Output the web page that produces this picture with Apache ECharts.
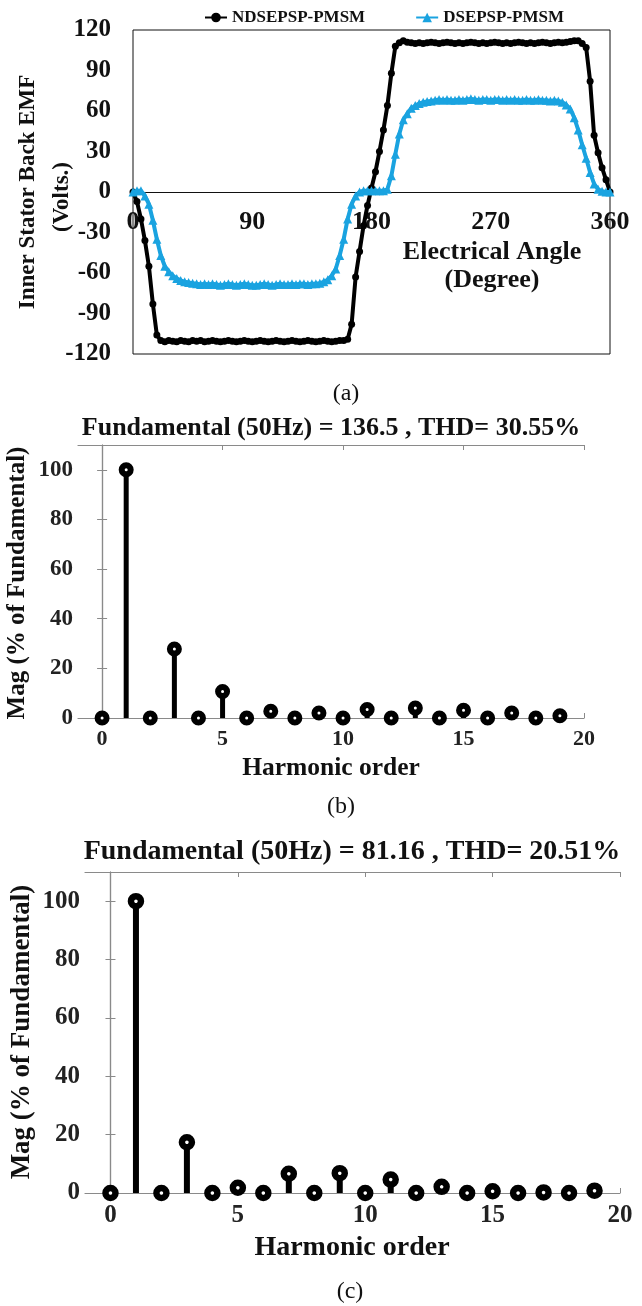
<!DOCTYPE html>
<html>
<head>
<meta charset="utf-8">
<script src="https://cdn.jsdelivr.net/npm/echarts@6/dist/echarts.min.js"></script>
<style>
html,body{margin:0;padding:0;background:#fff;}
#main{width:642px;height:1306px;}
</style>
</head>
<body>
<div id="main"></div>
<script>
// (a) back EMF, read every 3 degrees
var angle = [0,3,6,9,12,15,18,21,24,27,30,33,36,39,42,45,48,51,54,57,60,63,66,69,72,75,78,81,84,87,
    90,93,96,99,102,105,108,111,114,117,120,123,126,129,132,135,138,141,144,147,150,153,156,159,162,165,168,171,174,177,
    180,183,186,189,192,195,198,201,204,207,210,213,216,219,222,225,228,231,234,237,240,243,246,249,252,255,258,261,264,267,
    270,273,276,279,282,285,288,291,294,297,300,303,306,309,312,315,318,321,324,327,330,333,336,339,342,345,348,351,354,357,360];
var ndsepsp = [0,-7,-20,-36,-55,-83,-106,-110,-111,-110,-110.5,-111,-110,-110.5,-111,-110,-110.5,-110,-111,-110.5,-110,-110.5,-111,-110.5,-110,-110.5,-111,-110.5,-110,-110.5,
    -111,-110.5,-110,-110.5,-111,-110.5,-110,-110.5,-111,-110.5,-110,-110.5,-111,-110.5,-110,-110.5,-111,-110.5,-110,-110.5,-111,-110.5,-110,-110,-109,-98,-63,-44,-25,-10,
    3,15,30,46,64,88,108,110.5,112,111,110.5,110,110.5,110,110.5,111,110.5,110,110.5,111,110.5,110,110.5,110,110.5,111,110.5,110,110.5,110,
    110.5,111,110.5,110,110.5,110,110.5,111,110.5,110,110.5,110,110.5,111,110.5,110,110.5,111,110.5,111,111.5,112,112,110,107,82,42,29,18,9,0];
var dsepsp = [0,1,1,-3,-9,-21,-35,-47,-55,-59,-62,-64,-65.5,-66.5,-67,-67.5,-68,-68.5,-68,-68.5,-68,-68.5,-69,-68.5,-68,-68.5,-69,-68.5,-68,-68.5,
    -69,-69,-68.5,-68,-68.5,-69,-68.5,-68,-68.5,-68.5,-68,-68.5,-68,-68,-68.5,-68,-68,-67.5,-66.5,-65,-62,-57,-47,-35,-20,-9,-3,0,1,1,
    1,1,1,1,2,12,28,43,53.5,58,62,64,65.5,66.5,67,67.5,68,68.5,68,68.5,68,68,68.5,68,68.5,69,68.5,68,68.5,68.5,
    68,68.5,68.5,68,68.5,68,68.5,68,68,68.5,68,68,68.5,68,68,67.5,68,67.5,66.5,64.5,61.5,55,46,35,25,14.5,6,2,0.5,0,0];

// (b) and (c) harmonic spectra
var harmonicOrder = [0,1,2,3,4,5,6,7,8,9,10,11,12,13,14,15,16,17,18,19];
var magB = [0,100,0,27.8,0,10.7,0,2.7,0,2,0,3.4,0,4,0,3.1,0,2,0,0.9];
var magC = [0,100,0,17.4,0,1.8,0,6.6,0,6.8,0,4.6,0,2.1,0,0.6,0,0.2,0,0.8];
var harmonicTicks = [0,5,10,15,20];

var serif = '"Liberation Serif", "Times New Roman", serif';
var boxGray = '#8a8a8a';

function pairs(xs, ys) {
    var out = [];
    for (var i = 0; i < xs.length; i++) out.push([xs[i], ys[i]]);
    return out;
}

function txt(text, x, y, size, weight, rot) {
    return {
        type: 'text', x: x, y: y, rotation: rot || 0,
        style: {
            text: text, font: weight + ' ' + size + 'px ' + serif, fill: '#111',
            align: 'center', verticalAlign: 'middle', textAlign: 'center', textVerticalAlign: 'middle'
        }
    };
}

// bottom/top x axis and left/right y axis for a MATLAB style box
function harmX(grid, pos, fs, withLabels) {
    return {
        gridIndex: grid, type: 'value', position: pos, min: -1, max: 20,
        axisLine: {onZero: false, lineStyle: {color: boxGray, width: 1.2}},
        axisTick: {inside: true, length: 5, customValues: harmonicTicks, lineStyle: {color: boxGray}},
        axisLabel: withLabels ? {customValues: harmonicTicks, margin: 10, color: '#222',
            fontFamily: serif, fontWeight: 'bold', fontSize: fs} : {show: false},
        splitLine: {show: false}
    };
}
function harmY(grid, pos, fs, withLabels) {
    return {
        gridIndex: grid, type: 'value', position: pos, min: 0, max: 110, interval: 20,
        axisLine: {show: true, lineStyle: {color: boxGray, width: 1.2}},
        axisTick: {show: true, inside: true, length: 5, lineStyle: {color: boxGray}},
        axisLabel: withLabels ? {showMaxLabel: false, margin: 5, color: '#222',
            fontFamily: serif, fontWeight: 'bold', fontSize: fs} : {show: false},
        splitLine: {show: false}
    };
}

var chart = echarts.init(document.getElementById('main'));

var option = {
    backgroundColor: '#fff',
    animation: false,
    legend: {
        data: ['NDSEPSP-PMSM', 'DSEPSP-PMSM'],
        left: 199, top: 4,
        itemWidth: 22, itemHeight: 12, itemGap: 50,
        textStyle: {fontFamily: serif, fontWeight: 'bold', fontSize: 17, color: '#111'}
    },
    grid: [
        {left: 133, top: 30, width: 477, height: 324, show: true, borderColor: '#111', borderWidth: 1},
        {left: 78, top: 445, width: 506, height: 273},
        {left: 85, top: 872, width: 535, height: 321}
    ],
    xAxis: [
        {
            // axis drawn through the zero line of the box
            gridIndex: 0, type: 'value', min: 0, max: 360, interval: 90,
            position: 'bottom', offset: -162,
            axisLine: {onZero: false, lineStyle: {color: '#111', width: 1}},
            axisTick: {show: false},
            axisLabel: {margin: 17, color: '#111', fontFamily: serif, fontWeight: 'bold', fontSize: 26},
            splitLine: {show: false}
        },
        harmX(1, 'bottom', 22, true),
        harmX(1, 'top', 22, false),
        harmX(2, 'bottom', 25, true),
        harmX(2, 'top', 25, false)
    ],
    yAxis: [
        {
            gridIndex: 0, type: 'value', min: -120, max: 120, interval: 30,
            axisLine: {show: false},
            axisTick: {show: false},
            axisLabel: {margin: 22, color: '#111', fontFamily: serif, fontWeight: 'bold', fontSize: 25},
            splitLine: {show: false}
        },
        harmY(1, 'left', 23, true),
        harmY(1, 'right', 23, false),
        harmY(2, 'left', 25, true),
        harmY(2, 'right', 25, false)
    ],
    graphic: [
        txt('Inner Stator Back EMF', 28, 192, 23, 'bold', Math.PI / 2),
        txt('(Volts.)', 62, 197, 23, 'bold', Math.PI / 2),
        txt('Electrical Angle', 492, 252, 26, 'bold'),
        txt('(Degree)', 492, 280, 26, 'bold'),
        txt('(a)', 346, 394, 24, 'normal'),
        txt('Fundamental (50Hz) = 136.5 , THD= 30.55%', 331, 428, 26, 'bold'),
        txt('Mag (% of Fundamental)', 18, 583, 25, 'bold', Math.PI / 2),
        txt('Harmonic order', 331, 768, 25.5, 'bold'),
        txt('(b)', 341, 807, 24, 'normal'),
        txt('Fundamental (50Hz) = 81.16 , THD= 20.51%', 352, 852, 28, 'bold'),
        txt('Mag (% of Fundamental)', 22, 1032, 27, 'bold', Math.PI / 2),
        txt('Harmonic order', 352, 1248, 28, 'bold'),
        txt('(c)', 350, 1292, 24, 'normal')
    ],
    series: [
        {
            name: 'NDSEPSP-PMSM', type: 'line', xAxisIndex: 0, yAxisIndex: 0,
            data: pairs(angle, ndsepsp),
            symbol: 'circle', symbolSize: 7, showAllSymbol: true,
            lineStyle: {color: '#000', width: 4},
            itemStyle: {color: '#000'},
            z: 3
        },
        {
            name: 'DSEPSP-PMSM', type: 'line', xAxisIndex: 0, yAxisIndex: 0,
            data: pairs(angle, dsepsp),
            symbol: 'triangle', symbolSize: 9, showAllSymbol: true,
            lineStyle: {color: '#1aa3e0', width: 4},
            itemStyle: {color: '#1aa3e0'},
            z: 4
        },
        {
            type: 'bar', xAxisIndex: 1, yAxisIndex: 1, barWidth: 5,
            data: pairs(harmonicOrder, magB),
            itemStyle: {color: '#000'}, z: 2
        },
        {
            type: 'scatter', xAxisIndex: 1, yAxisIndex: 1,
            data: pairs(harmonicOrder, magB),
            symbol: 'circle', symbolSize: 9,
            itemStyle: {color: '#fff', borderColor: '#000', borderWidth: 6, opacity: 1},
            z: 3
        },
        {
            type: 'bar', xAxisIndex: 3, yAxisIndex: 3, barWidth: 6,
            data: pairs(harmonicOrder, magC),
            itemStyle: {color: '#000'}, z: 2
        },
        {
            type: 'scatter', xAxisIndex: 3, yAxisIndex: 3,
            data: pairs(harmonicOrder, magC),
            symbol: 'circle', symbolSize: 10,
            itemStyle: {color: '#fff', borderColor: '#000', borderWidth: 6.5, opacity: 1},
            z: 3
        }
    ]
};

chart.setOption(option);
</script>
</body>
</html>
